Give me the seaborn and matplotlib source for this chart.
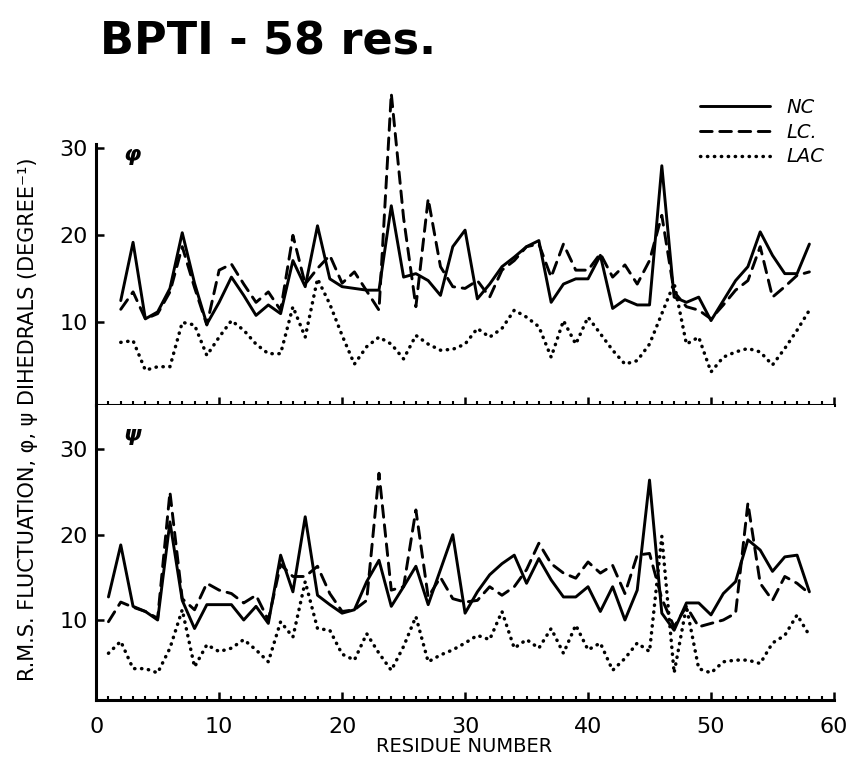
import matplotlib
matplotlib.use("Agg")
import matplotlib.pyplot as plt
import pandas as pd
import seaborn as sns
from matplotlib.ticker import MultipleLocator

# residue numbers (phi is undefined for residue 1)
PHI_RES = list(range(2, 59))
PSI_RES = list(range(1, 59))

# phi fluctuations, residues 2..58
PHI_NC = [12.5, 19.2, 10.4, 11.2, 13.9, 20.3, 14.5, 9.8, 12.3, 15.2,
          13.1, 10.8, 12.0, 11.0, 17.1, 14.1, 21.1, 15.0, 14.1, 13.9,
          13.7, 13.7, 23.4, 15.2, 15.6, 14.8, 13.1, 18.7, 20.6, 12.7,
          14.4, 16.4, 17.5, 18.7, 19.4, 12.3, 14.4, 15.0, 15.0, 17.7,
          11.6, 12.6, 12.0, 12.0, 28.0, 12.9, 12.3, 12.9, 10.2, 12.5,
          14.8, 16.4, 20.4, 17.7, 15.6, 15.6, 19.0]
PHI_LC = [11.5, 13.5, 10.4, 11.0, 13.5, 18.7, 14.0, 9.7, 16.0, 16.7,
          14.4, 12.3, 13.5, 11.4, 20.0, 14.4, 16.2, 17.7, 14.5, 15.8,
          13.6, 11.4, 36.3, 22.0, 11.8, 24.2, 16.4, 14.1, 13.9, 14.8,
          12.9, 16.0, 17.1, 18.7, 19.0, 15.2, 19.0, 16.0, 16.0, 17.9,
          15.2, 16.6, 14.4, 17.1, 22.3, 13.5, 11.8, 11.4, 10.4, 12.0,
          13.7, 14.8, 18.7, 12.9, 14.1, 15.4, 15.8]
PHI_LAC = [7.7, 7.9, 4.5, 4.9, 4.9, 10.0, 9.7, 6.2, 8.3, 10.2,
           9.1, 7.5, 6.4, 6.4, 11.8, 8.3, 15.0, 12.1, 8.5, 5.2,
           7.2, 8.3, 7.5, 5.8, 8.5, 7.5, 6.8, 6.9, 7.5, 9.3,
           8.3, 9.3, 11.4, 10.6, 9.5, 6.0, 10.2, 7.5, 10.6, 8.7,
           6.8, 5.2, 5.6, 7.5, 11.0, 14.5, 7.5, 8.3, 4.3, 6.0,
           6.6, 7.0, 6.6, 5.1, 7.0, 9.1, 11.4]

# psi fluctuations, residues 1..58
PSI_NC = [12.7, 18.8, 11.6, 11.0, 10.0, 21.5, 12.3, 9.0, 11.8, 11.8,
          11.8, 10.0, 11.6, 9.6, 17.6, 13.3, 22.1, 12.9, 11.8, 10.8,
          11.2, 14.5, 17.0, 11.6, 13.9, 16.3, 11.8, 15.9, 20.0, 10.8,
          13.3, 15.3, 16.6, 17.6, 14.3, 17.2, 14.7, 12.7, 12.7, 13.9,
          11.0, 13.9, 10.0, 13.5, 26.4, 10.8, 8.8, 12.0, 12.0, 10.6,
          13.1, 14.5, 19.4, 18.2, 15.7, 17.4, 17.6, 13.3]
PSI_LC = [9.8, 12.1, 11.5, 11.0, 10.2, 25.0, 12.5, 11.2, 14.3, 13.5,
          13.1, 12.0, 12.9, 10.0, 16.5, 15.1, 15.1, 16.3, 13.1, 11.0,
          11.2, 12.3, 27.2, 13.5, 13.9, 22.9, 12.7, 15.0, 12.5, 12.1,
          12.3, 13.9, 12.9, 13.9, 15.9, 19.0, 16.6, 15.5, 14.9, 16.8,
          15.5, 16.4, 13.1, 17.6, 17.8, 12.5, 9.2, 11.6, 9.2, 9.6,
          10.0, 10.8, 23.7, 14.3, 12.3, 15.1, 14.3, 13.1]
PSI_LAC = [6.1, 7.5, 4.3, 4.3, 3.8, 6.7, 11.2, 4.5, 7.1, 6.3,
           6.7, 7.7, 6.5, 5.1, 9.8, 8.0, 14.5, 9.0, 8.8, 6.0,
           5.3, 8.4, 6.1, 4.1, 6.9, 10.4, 5.1, 5.9, 6.5, 7.3,
           8.2, 7.7, 11.0, 6.7, 7.7, 6.7, 9.0, 6.1, 9.4, 6.5,
           7.3, 4.1, 5.5, 7.3, 6.3, 19.8, 3.8, 11.6, 4.3, 3.8,
           5.1, 5.3, 5.3, 4.9, 7.3, 8.2, 10.6, 8.2]

LABELS = ["NC", "LC.", "LAC"]
STYLES = {
    "NC": dict(linestyle="-", linewidth=2.1),
    "LC.": dict(linestyle=(0, (4.0, 2.6)), linewidth=2.1),
    "LAC": dict(linestyle=(0, (0.1, 1.9)), linewidth=2.5),
}

sns.set_style("ticks")
plt.rcParams["font.family"] = ["DejaVu Sans"]
plt.rcParams.update({"text.color": "black", "axes.labelcolor": "black",
                     "xtick.color": "black", "ytick.color": "black",
                     "axes.edgecolor": "black"})

fig = plt.figure(figsize=(8.51, 7.62), dpi=100)
ax_top = fig.add_axes([0.113, 0.4685, 0.867, 0.451])
ax_bot = fig.add_axes([0.113, 0.0811, 0.867, 0.3874])


def draw(ax, res, series):
    for name, vals in zip(LABELS, series):
        df = pd.DataFrame({"res": res, "val": vals})
        sns.lineplot(data=df, x="res", y="val", ax=ax, color="black",
                     label=name, dash_capstyle="round", **STYLES[name])


draw(ax_top, PHI_RES, [PHI_NC, PHI_LC, PHI_LAC])
draw(ax_bot, PSI_RES, [PSI_NC, PSI_LC, PSI_LAC])

for ax in (ax_top, ax_bot):
    ax.set_xlim(0, 60)
    ax.spines["top"].set_visible(False)
    ax.spines["right"].set_visible(False)
    for s in ("left", "bottom"):
        ax.spines[s].set_linewidth(2.2)
    ax.xaxis.set_major_locator(MultipleLocator(10))
    ax.xaxis.set_minor_locator(MultipleLocator(1))
    ax.set_yticks([10, 20, 30])
    ax.tick_params(axis="x", which="major", direction="in", length=6, width=1.8)
    ax.tick_params(axis="x", which="minor", direction="in", length=3, width=1.5)
    ax.tick_params(axis="y", direction="in", length=6, width=1.8,
                   labelsize=16, pad=6)
    ax.set_xlabel("")
    ax.set_ylabel("")

ax_top.set_ylim(0.5, 40)
ax_top.spines["left"].set_bounds(0.5, 30.5)
ax_top.tick_params(axis="x", labelbottom=False)
ax_bot.set_ylim(0.6, 35.2)
ax_bot.tick_params(axis="x", labelsize=16, pad=12)
ax_bot.get_legend().remove()

ax_top.legend(loc="upper right", bbox_to_anchor=(1.01, 0.945), frameon=False,
              handlelength=3.6, labelspacing=0.3, handletextpad=0.8,
              prop={"size": 14, "style": "italic"})

ax_top.text(2.2, 28.5, "φ", fontsize=16, style="italic", fontweight="bold")
ax_bot.text(2.2, 31.0, "ψ", fontsize=16, style="italic", fontweight="bold")

fig.text(0.118, 0.945, "BPTI - 58 res.", fontsize=32, fontweight="bold",
         va="center", ha="left")
fig.text(0.033, 0.45, "R.M.S. FLUCTUATION, φ, ψ DIHEDRALS (DEGREE⁻¹)",
         rotation=90, fontsize=15, va="center", ha="center")
fig.text(0.545, 0.02, "RESIDUE NUMBER", fontsize=14, va="center", ha="center")

fig.savefig("out.png", dpi=100)
